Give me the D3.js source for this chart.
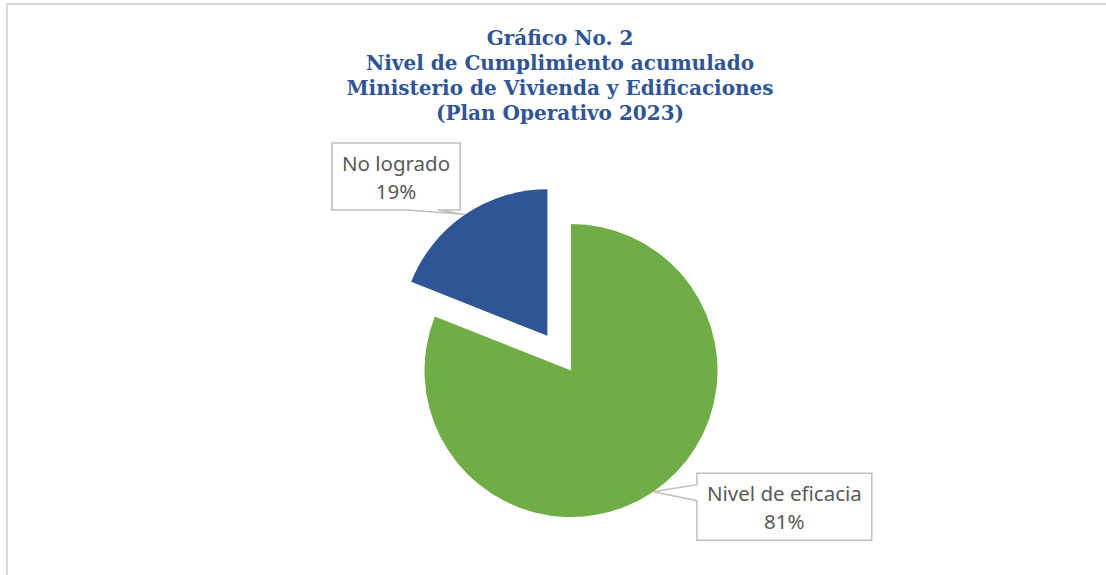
<!DOCTYPE html>
<html>
<head>
<meta charset="utf-8">
<script src="https://cdn.jsdelivr.net/npm/d3@7"></script>
<style>
  html, body { margin: 0; padding: 0; background: #fff; overflow: hidden; }
</style>
</head>
<body>
<script>
const categories = ["Nivel de eficacia", "No logrado"];
const values = [81, 19];
const colors = ["#70AD47", "#2F5597"];
const titleLines = [
  "Gráfico No. 2",
  "Nivel de Cumplimiento acumulado",
  "Ministerio de Vivienda y Edificaciones",
  "(Plan Operativo 2023)"
];

let w = 1106;
let h = 575;
let cx = 571;
let cy = 370.5;
let radius = 146.5;
let explode = [0, 42];
// callout box centre, relative to the pointer tip on the slice edge
let callouts = [
  { dx: 131, dy: 15, side: "left", b0: -22, b1: -6 },
  { dx: -69, dy: -38, side: "bottom", b0: 12, b1: 42 }
];

let svg = d3.select("body")
  .append("svg")
  .attr("width", w)
  .attr("height", h);

// chart area frame
svg.append("rect")
  .attr("x", 7)
  .attr("y", 4)
  .attr("width", w + 10)
  .attr("height", h + 10)
  .attr("fill", "#fff")
  .attr("stroke", "#d9d9d9")
  .attr("stroke-width", 2);

svg.append("g")
  .selectAll("text")
  .data(titleLines)
  .enter()
  .append("text")
  .attr("x", 560)
  .attr("y", (d, i) => 45 + i * 25)
  .attr("text-anchor", "middle")
  .style("font-family", "'DejaVu Serif', serif")
  .style("font-weight", "bold")
  .style("font-size", "20px")
  .style("fill", "#2F5597")
  .text(d => d);

let pie = d3.pie().sort(null).value(d => d)(values);
let arc = d3.arc().innerRadius(0).outerRadius(radius);
let total = d3.sum(values);

let shift = (d, i) => {
  let a = (d.startAngle + d.endAngle) / 2;
  return [cx + explode[i] * Math.sin(a), cy - explode[i] * Math.cos(a)];
};

svg.append("g")
  .selectAll("path")
  .data(pie)
  .enter()
  .append("path")
  .attr("transform", (d, i) => "translate(" + shift(d, i) + ")")
  .attr("d", arc)
  .attr("fill", (d, i) => colors[i]);

// data label callouts
pie.forEach((d, i) => {
  let a = (d.startAngle + d.endAngle) / 2;
  let o = shift(d, i);
  let tip = [o[0] + radius * Math.sin(a), o[1] - radius * Math.cos(a)];
  let c = callouts[i];
  let bx = tip[0] + c.dx;
  let by = tip[1] + c.dy;

  let g = svg.append("g");
  let lines = [categories[i], Math.round(values[i] / total * 100) + "%"];
  let texts = g.selectAll("text")
    .data(lines)
    .enter()
    .append("text")
    .attr("x", bx)
    .attr("y", (t, j) => by - 6 + j * 28)
    .attr("text-anchor", "middle")
    .style("font-family", "'Noto Sans', sans-serif")
    .style("font-size", "20.5px")
    .style("fill", "#595959")
    .text(t => t);
  let tw = d3.max(texts.nodes(), n => n.getComputedTextLength());
  let bw = tw + 20, bh = 67;
  let L = bx - bw / 2, R = bx + bw / 2, T = by - bh / 2, B = by + bh / 2;
  let pts;
  if (c.side === "left") {
    pts = [[L, T], [R, T], [R, B], [L, B], [L, by + c.b1], tip, [L, by + c.b0]];
  } else {
    pts = [[L, T], [R, T], [R, B], [bx + c.b1, B], tip, [bx + c.b0, B], [L, B]];
  }
  g.insert("path", "text")
    .attr("d", d3.line()(pts) + "Z")
    .attr("fill", "#fff")
    .attr("stroke", "#bfbfbf")
    .attr("stroke-width", 1.5);
});
</script>
</body>
</html>
